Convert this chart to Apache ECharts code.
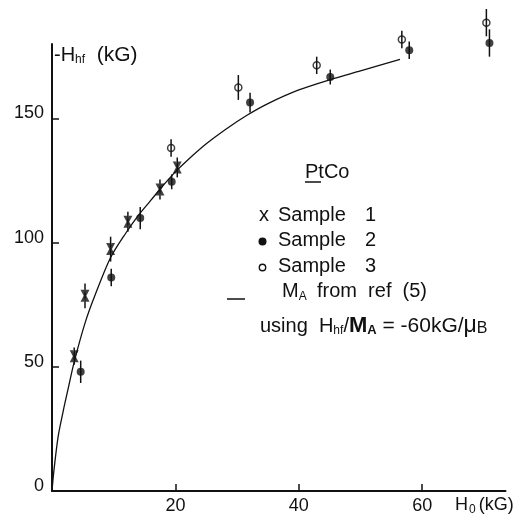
<!DOCTYPE html>
<html>
<head>
<meta charset="utf-8">
<script src="https://cdn.jsdelivr.net/npm/echarts@6/dist/echarts.min.js"></script>
<style>
  html, body { margin: 0; padding: 0; background: #fff; }
  #chart { width: 517px; height: 517px; }
</style>
</head>
<body>
<div id="chart"></div>
<script>
// values (H0 in kG, -Hhf in kG, error half-width)
const sample1X = [3.6, 5.35, 9.5, 12.3, 17.5, 20.3]
const sample1Y = [54.3, 78.6, 97.4, 108.4, 121.4, 130.3]
const sample1Err = [3.5, 5, 5, 4, 4, 4]

const sample2X = [4.65, 9.6, 14.3, 19.4, 32.1, 45.1, 57.9, 70.9]
const sample2Y = [48, 86, 109.9, 124.5, 156.4, 166.7, 177.5, 180.4]
const sample2Err = [4.5, 3.5, 4.5, 3, 4, 3, 3.5, 5.5]

const sample3X = [19.3, 30.2, 42.9, 56.7, 70.4]
const sample3Y = [138.1, 162.5, 171.4, 181.8, 188.6]
const sample3Err = [3.5, 5, 3.5, 3.5, 5.5]

// M_A curve from ref (5)
const curveX = [0, 0.3, 1, 1.8, 2.6, 3.6, 5.4, 7, 9.5, 12, 14, 16, 18, 20, 22, 25, 28, 31.6, 35, 40, 45, 50, 56.4]
const curveY = [0, 8, 22, 32, 41, 52, 68, 79, 94, 104, 111, 117, 123, 128.5, 133.3, 139.8, 145.4, 151.3, 156, 161.5, 165.6, 169.2, 173.8]

const xTicks = [20, 40, 60]
const yTicks = [50, 100, 150]
const yLabels = [0, 50, 100, 150]

const ink = '#111'
const font = 'Liberation Sans'

const chart = echarts.init(document.getElementById('chart'))

const toPoints = (xs, ys, errs) => xs.map((x, i) => [x, ys[i], errs[i]])

function errorBars(points) {
  return {
    type: 'custom',
    clip: false,
    silent: true,
    z: 1,
    data: points,
    renderItem(params, api) {
      const x = api.value(0)
      const y = api.value(1)
      const e = api.value(2)
      const top = api.coord([x, y + e])
      const bottom = api.coord([x, y - e])
      return {
        type: 'line',
        shape: { x1: top[0], y1: top[1], x2: bottom[0], y2: bottom[1] },
        style: { stroke: ink, lineWidth: 1.5 }
      }
    }
  }
}

const bowtie = 'path://M0,0 L4,0 L5,4 L6,0 L10,0 L6.5,6 L10,12 L6,12 L5,8 L4,12 L0,12 L3.5,6 Z'

const rich = {
  n: { fontFamily: font, fontSize: 20, lineHeight: 22, fill: ink },
  w: { fontFamily: font, fontSize: 21, lineHeight: 22, fill: ink },
  m: { fontFamily: font, fontSize: 18, lineHeight: 22, fill: ink },
  s: { fontFamily: font, fontSize: 12, lineHeight: 10, verticalAlign: 'bottom', fill: ink },
  sa: { fontFamily: font, fontSize: 13, fontWeight: 'bold', lineHeight: 10, verticalAlign: 'bottom', fill: ink },
  sb: { fontFamily: font, fontSize: 16, lineHeight: 12, verticalAlign: 'bottom', fill: ink },
  s0: { fontFamily: font, fontSize: 12, lineHeight: 10, verticalAlign: 'bottom', padding: [0, 3, 0, 1], fill: ink },
  b: { fontFamily: font, fontSize: 22, fontWeight: 'bold', lineHeight: 22, fill: ink },
  mu: { fontFamily: font, fontSize: 23, lineHeight: 22, fill: ink }
}

function label(x, y, text, size) {
  return {
    type: 'text',
    x, y,
    silent: true,
    style: {
      text,
      fontFamily: font,
      fontSize: size || 20,
      fill: ink,
      verticalAlign: 'middle',
      align: 'left',
      rich
    }
  }
}

const legendRows = [
  { y: 215, num: '1' },
  { y: 240.5, num: '2' },
  { y: 266.5, num: '3' }
]

const graphic = [
  // axis titles
  label(54, 55, '{n|-H}{s|hf}{w|  (kG)}'),
  label(455, 505, '{m|H}{s0|0}{m|(kG)}'),
  // legend block
  label(305, 172.5, 'PtCo'),
  { type: 'line', silent: true, shape: { x1: 305, y1: 182, x2: 321, y2: 182 }, style: { stroke: ink, lineWidth: 1.5 } },
  label(259, legendRows[0].y, 'x'),
  { type: 'circle', silent: true, shape: { cx: 262.5, cy: legendRows[1].y + 1, r: 4 }, style: { fill: ink } },
  { type: 'circle', silent: true, shape: { cx: 262.5, cy: legendRows[2].y + 1, r: 3.2 }, style: { fill: 'none', stroke: ink, lineWidth: 1.4 } },
  ...legendRows.map(r => label(278, r.y, 'Sample')),
  ...legendRows.map(r => label(365, r.y, r.num)),
  { type: 'line', silent: true, shape: { x1: 227, y1: 299, x2: 245, y2: 299 }, style: { stroke: ink, lineWidth: 1.5 } },
  label(282, 291.5, '{n|M}{s|A}'),
  label(317, 291.5, 'from  ref  (5)'),
  label(260, 326, '{n|using  H}{s|hf}{n|/}{b|M}{sa|A}{w| = -60kG/}{mu|μ}{sb|B}')
]

const option = {
  backgroundColor: '#fff',
  animation: false,
  grid: { left: 52, right: 11.5, top: 44, bottom: 26 },
  xAxis: {
    type: 'value',
    min: 0,
    max: 73.5,
    axisLine: { lineStyle: { color: ink, width: 2 } },
    axisTick: { customValues: xTicks, inside: true, length: 7, lineStyle: { color: ink, width: 1.5 } },
    axisLabel: { customValues: xTicks, color: ink, fontFamily: font, fontSize: 18, margin: 6 },
    splitLine: { show: false }
  },
  yAxis: {
    type: 'value',
    min: 0,
    max: 180,
    axisLine: { show: true, lineStyle: { color: ink, width: 2 } },
    axisTick: { customValues: yTicks, inside: true, length: 7, lineStyle: { color: ink, width: 1.5 } },
    axisLabel: {
      customValues: yLabels, color: ink, fontFamily: font, fontSize: 18, margin: 8,
      verticalAlign: 'bottom', lineHeight: 10
    },
    splitLine: { show: false }
  },
  graphic,
  series: [
    {
      name: 'MA from ref (5)',
      type: 'line',
      data: curveX.map((x, i) => [x, curveY[i]]),
      smooth: 0.3,
      showSymbol: false,
      silent: true,
      lineStyle: { color: ink, width: 1.3 },
      z: 0
    },
    errorBars(toPoints(sample1X, sample1Y, sample1Err)),
    errorBars(toPoints(sample2X, sample2Y, sample2Err)),
    errorBars(toPoints(sample3X, sample3Y, sample3Err)),
    {
      name: 'Sample 1',
      type: 'scatter',
      clip: false,
      symbol: bowtie,
      symbolSize: [9, 12],
      itemStyle: { color: ink },
      data: sample1X.map((x, i) => [x, sample1Y[i]]),
      z: 3
    },
    {
      name: 'Sample 2',
      type: 'scatter',
      clip: false,
      symbol: 'circle',
      symbolSize: 8,
      itemStyle: { color: ink },
      data: sample2X.map((x, i) => [x, sample2Y[i]]),
      z: 3
    },
    {
      name: 'Sample 3',
      type: 'scatter',
      clip: false,
      symbol: 'circle',
      symbolSize: 7,
      itemStyle: { color: 'rgba(0,0,0,0)', borderColor: ink, borderWidth: 1.5 },
      data: sample3X.map((x, i) => [x, sample3Y[i]]),
      z: 3
    }
  ]
}

chart.setOption(option)
</script>
</body>
</html>
